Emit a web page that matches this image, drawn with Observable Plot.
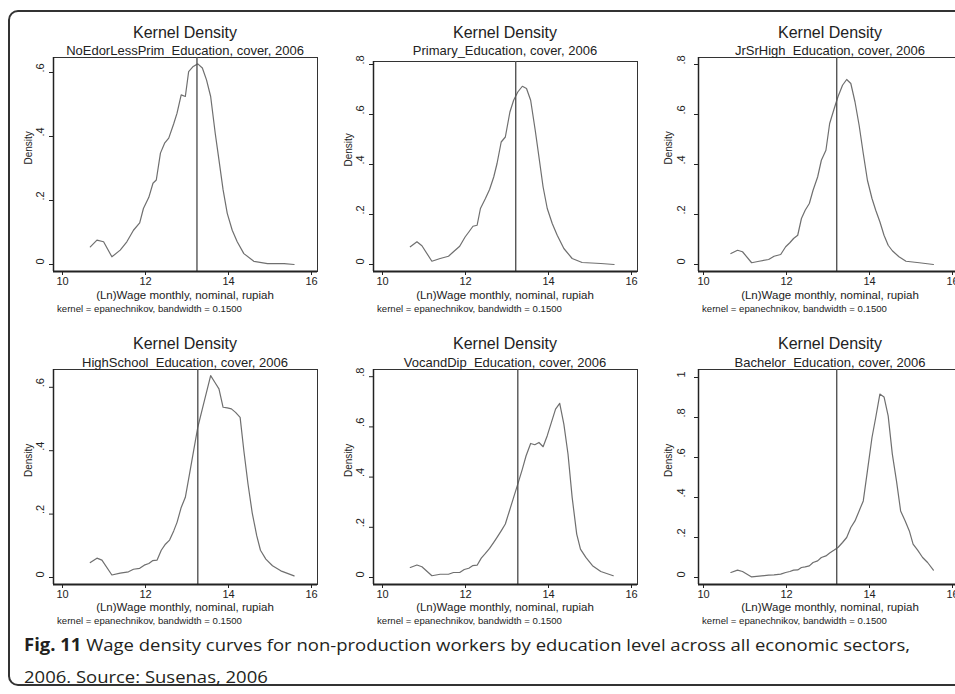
<!DOCTYPE html>
<html>
<head>
<meta charset="utf-8">
<script src="https://cdn.jsdelivr.net/npm/d3@7"></script>
<script src="https://cdn.jsdelivr.net/npm/@observablehq/plot@0.6"></script>
<style>
  html, body { margin: 0; padding: 0; background: #fff; }
  #page { position: relative; width: 955px; height: 694px; overflow: hidden; background: #fff; }
  #border { position: absolute; left: 8px; top: 10px; width: 980px; height: 676px; border: 2px solid #333; border-radius: 10px; box-sizing: border-box; }
  .t { position: absolute; transform: translate(-50%, -50%); white-space: nowrap; font-family: "Liberation Sans", Arial, sans-serif; color: #222; }
  .title { font-size: 16px; }
  .sub { font-size: 13px; }
  .xlab { font-size: 11.5px; }
  .note { position: absolute; white-space: nowrap; font-family: "Liberation Sans", Arial, sans-serif; font-size: 9.6px; color: #222; transform: translateY(-50%); }
  .panel { position: absolute; }
  #caption { position: absolute; left: 24px; top: 629px; font-family: "Open Sans", sans-serif; font-size: 17px; line-height: 32px; color: #231f20; white-space: nowrap; transform-origin: 0 0; }
  #caption b { font-weight: 700; }
</style>
</head>
<body>
<div id="page">
  <div id="border"></div>
</div>
<script>
// ---------- data ----------
const panelNames = ["NoEdorLessPrim_Education", "Primary_Education", "JrSrHigh_Education",
                    "HighSchool_Education", "VocandDip_Education", "Bachelor_Education"];
const xTicks = [10, 12, 14, 16];
const yTicksP1 = [0, 0.2, 0.4, 0.6];
const yTicksP2 = [0, 0.2, 0.4, 0.6, 0.8];
const yTicksP3 = [0, 0.2, 0.4, 0.6, 0.8];
const yTicksP4 = [0, 0.2, 0.4, 0.6];
const yTicksP5 = [0, 0.2, 0.4, 0.6, 0.8];
const yTicksP6 = [0, 0.2, 0.4, 0.6, 0.8, 1];
const refLines = [13.24, 13.21, 13.21, 13.26, 13.26, 13.21];

const noEdWage = [10.67,10.83,10.99,11.19,11.39,11.55,11.71,11.86,11.95,12.08,12.18,12.26,12.36,12.46,12.56,12.68,12.76,12.86,12.96,13.04,13.15,13.26,13.37,13.47,13.57,13.68,13.77,13.87,13.97,14.09,14.21,14.37,14.61,14.94,15.34,15.58];
const noEdDens = [0.055,0.076,0.071,0.024,0.045,0.071,0.107,0.13,0.175,0.21,0.254,0.264,0.348,0.379,0.395,0.44,0.473,0.53,0.525,0.603,0.619,0.627,0.614,0.577,0.525,0.41,0.327,0.233,0.16,0.107,0.071,0.034,0.01,0.003,0.003,0];

const primWage = [10.67,10.83,10.95,11.19,11.39,11.59,11.71,11.86,11.99,12.08,12.18,12.28,12.36,12.48,12.58,12.68,12.76,12.86,12.96,13.07,13.16,13.26,13.37,13.47,13.57,13.68,13.77,13.87,13.97,14.09,14.21,14.37,14.57,14.81,15.26,15.58];
const primDens = [0.071,0.091,0.075,0.013,0.024,0.033,0.051,0.073,0.11,0.13,0.153,0.157,0.224,0.264,0.3,0.35,0.404,0.49,0.51,0.61,0.657,0.69,0.713,0.704,0.657,0.537,0.43,0.31,0.224,0.164,0.117,0.064,0.024,0.008,0.004,0];

const jrWage = [10.66,10.82,10.94,11.16,11.34,11.57,11.7,11.86,11.98,12.08,12.17,12.27,12.36,12.45,12.55,12.64,12.75,12.84,12.95,13.04,13.15,13.24,13.35,13.45,13.55,13.65,13.75,13.85,13.95,14.06,14.15,14.25,14.35,14.45,14.55,14.71,14.88,15.2,15.54];
const jrDens = [0.044,0.057,0.051,0.007,0.013,0.02,0.033,0.04,0.071,0.087,0.104,0.117,0.184,0.217,0.244,0.297,0.35,0.417,0.457,0.564,0.624,0.671,0.717,0.74,0.724,0.651,0.557,0.444,0.337,0.264,0.217,0.171,0.117,0.077,0.055,0.031,0.013,0.007,0];

const hsWage = [10.67,10.83,10.95,11.19,11.39,11.59,11.71,11.86,11.97,12.08,12.17,12.28,12.38,12.48,12.58,12.68,12.76,12.86,12.96,13.06,13.16,13.26,13.37,13.46,13.57,13.67,13.77,13.87,13.97,14.07,14.17,14.28,14.37,14.47,14.57,14.68,14.77,14.9,15.06,15.26,15.58];
const hsDens = [0.047,0.061,0.055,0.008,0.014,0.018,0.026,0.029,0.039,0.044,0.053,0.055,0.086,0.105,0.118,0.147,0.174,0.221,0.253,0.326,0.4,0.474,0.532,0.579,0.637,0.616,0.595,0.537,0.535,0.532,0.521,0.505,0.4,0.295,0.205,0.132,0.086,0.058,0.037,0.021,0.005];

const vocWage = [10.67,10.83,10.95,11.19,11.39,11.59,11.71,11.86,11.97,12.08,12.17,12.28,12.38,12.48,12.58,12.68,12.76,12.86,12.96,13.06,13.16,13.26,13.37,13.46,13.57,13.67,13.77,13.87,13.97,14.07,14.17,14.27,14.37,14.47,14.57,14.68,14.77,14.9,15.06,15.26,15.56];
const vocDens = [0.04,0.05,0.043,0.007,0.013,0.013,0.02,0.02,0.032,0.037,0.047,0.049,0.077,0.096,0.116,0.14,0.16,0.186,0.213,0.266,0.319,0.372,0.432,0.485,0.534,0.529,0.538,0.521,0.565,0.618,0.671,0.694,0.611,0.492,0.319,0.173,0.113,0.08,0.047,0.024,0.007];

const bachWage = [10.66,10.82,10.94,11.16,11.34,11.57,11.7,11.86,11.98,12.08,12.17,12.27,12.36,12.45,12.55,12.64,12.75,12.84,12.95,13.04,13.15,13.24,13.35,13.45,13.55,13.65,13.75,13.85,13.95,14.06,14.15,14.25,14.35,14.45,14.55,14.65,14.75,14.86,14.96,15.05,15.16,15.28,15.4,15.54];
const bachDens = [0.025,0.037,0.03,0.003,0.007,0.012,0.013,0.017,0.025,0.03,0.037,0.038,0.05,0.053,0.058,0.075,0.083,0.1,0.108,0.122,0.137,0.15,0.175,0.2,0.25,0.283,0.333,0.383,0.533,0.7,0.8,0.917,0.903,0.808,0.617,0.483,0.333,0.283,0.233,0.167,0.137,0.1,0.075,0.037];

const wages = [noEdWage, primWage, jrWage, hsWage, vocWage, bachWage];
const dens = [noEdDens, primDens, jrDens, hsDens, vocDens, bachDens];
const yTicks = [yTicksP1, yTicksP2, yTicksP3, yTicksP4, yTicksP5, yTicksP6];

// ---------- layout ----------
const pxPerX = 41.5;
const frameW = 264;
const colFrameLeft = [53, 373, 698];
const colTick10Inset = [9, 9, 5];
const colLabelOff = [13, 13, 17];
const colDensOff = [25, 25, 30];
const panelGeom = [ // zero px, px per unit, frame top, frame bottom
  {zero: 264, unit: 320, top: 57, bottom: 271},
  {zero: 264, unit: 250, top: 61, bottom: 271},
  {zero: 264, unit: 250, top: 57, bottom: 271},
  {zero: 577, unit: 317, top: 369, bottom: 584},
  {zero: 577, unit: 251, top: 369, bottom: 584},
  {zero: 577, unit: 200, top: 369, bottom: 584}
];
const rowText = [
  {title: 33, sub: 50, xlab: 295, note: 308},
  {title: 344, sub: 362, xlab: 607, note: 620}
];

const page = document.getElementById("page");
const fmt = d => d === 0 ? "0" : d === 1 ? "1" : d.toFixed(1).replace(/^0/, "");

function addText(cls, text, x, y) {
  const el = document.createElement("div");
  el.className = cls;
  el.textContent = text;
  el.style.left = x + "px";
  el.style.top = y + "px";
  page.appendChild(el);
}

for (let i = 0; i < 6; i++) {
  const col = i % 3, row = Math.floor(i / 3);
  const g = panelGeom[i];
  const fl = colFrameLeft[col];
  const x0 = 10 - colTick10Inset[col] / pxPerX;
  const x1 = x0 + frameW / pxPerX;
  const y0 = (g.zero - g.bottom) / g.unit;
  const y1 = (g.zero - g.top) / g.unit;
  const mL = 40, mR = 2, mT = 2, mB = 20;
  const h = g.bottom - g.top;
  const data = wages[i].map((w, k) => ({wage: w, density: dens[i][k]}));

  const svg = Plot.plot({
    width: mL + frameW + mR,
    height: mT + h + mB,
    marginLeft: mL, marginRight: mR, marginTop: mT, marginBottom: mB,
    style: {fontFamily: "Liberation Sans, Arial, sans-serif", fontSize: "11px", color: "#222", background: "transparent", overflow: "visible"},
    x: {domain: [x0, x1], label: null},
    y: {domain: [y0, y1], label: null},
    marks: [
      Plot.frame({stroke: "#333", strokeWidth: 1}),
      Plot.line(data, {x: "wage", y: "density", stroke: "#6f6f6f", strokeWidth: 1.2}),
      Plot.ruleX([refLines[i]], {stroke: "#555", strokeWidth: 1.4}),
      Plot.ruleY([y0], {stroke: "#222", strokeWidth: 2}),
      Plot.ruleX([x0], {stroke: "#222", strokeWidth: 1.5}),
      Plot.axisX({ticks: xTicks, tickSize: 4, tickPadding: 2, tickFormat: d => String(d), fontSize: 11, label: null}),
      Plot.axisY({ticks: yTicks[i], tickSize: 4, tickFormat: () => "", label: null}),
      Plot.text(yTicks[i], {y: d => d, text: fmt, frameAnchor: "left", dx: -colLabelOff[col], rotate: -90, fontSize: 11, fill: "#222"}),
      Plot.text(["Density"], {text: d => d, frameAnchor: "left", dx: -colDensOff[col], rotate: -90, fontSize: 10, fill: "#222"})
    ]
  });
  svg.classList.add("panel");
  svg.style.left = (fl - mL) + "px";
  svg.style.top = (g.top - mT) + "px";
  page.appendChild(svg);

  const cx = fl + frameW / 2;
  const rt = rowText[row];
  addText("t title", "Kernel Density", cx, rt.title);
  addText("t sub", panelNames[i] + ", cover, 2006", cx, rt.sub);
  addText("t xlab", "(Ln)Wage monthly, nominal, rupiah", cx, rt.xlab);
  const note = document.createElement("div");
  note.className = "note";
  note.textContent = "kernel = epanechnikov, bandwidth = 0.1500";
  note.style.left = (fl + 4) + "px";
  note.style.top = rt.note + "px";
  page.appendChild(note);
}

const cap = document.createElement("div");
cap.id = "caption";
cap.innerHTML = '<span id="l1"><b>Fig. 11</b> Wage density curves for non-production workers by education level across all economic sectors,</span><br>2006. Source: Susenas, 2006';
page.appendChild(cap);
const w1 = document.getElementById("l1").getBoundingClientRect().width;
cap.style.transform = "scaleX(" + (886 / w1) + ")";
</script>
</body>
</html>
